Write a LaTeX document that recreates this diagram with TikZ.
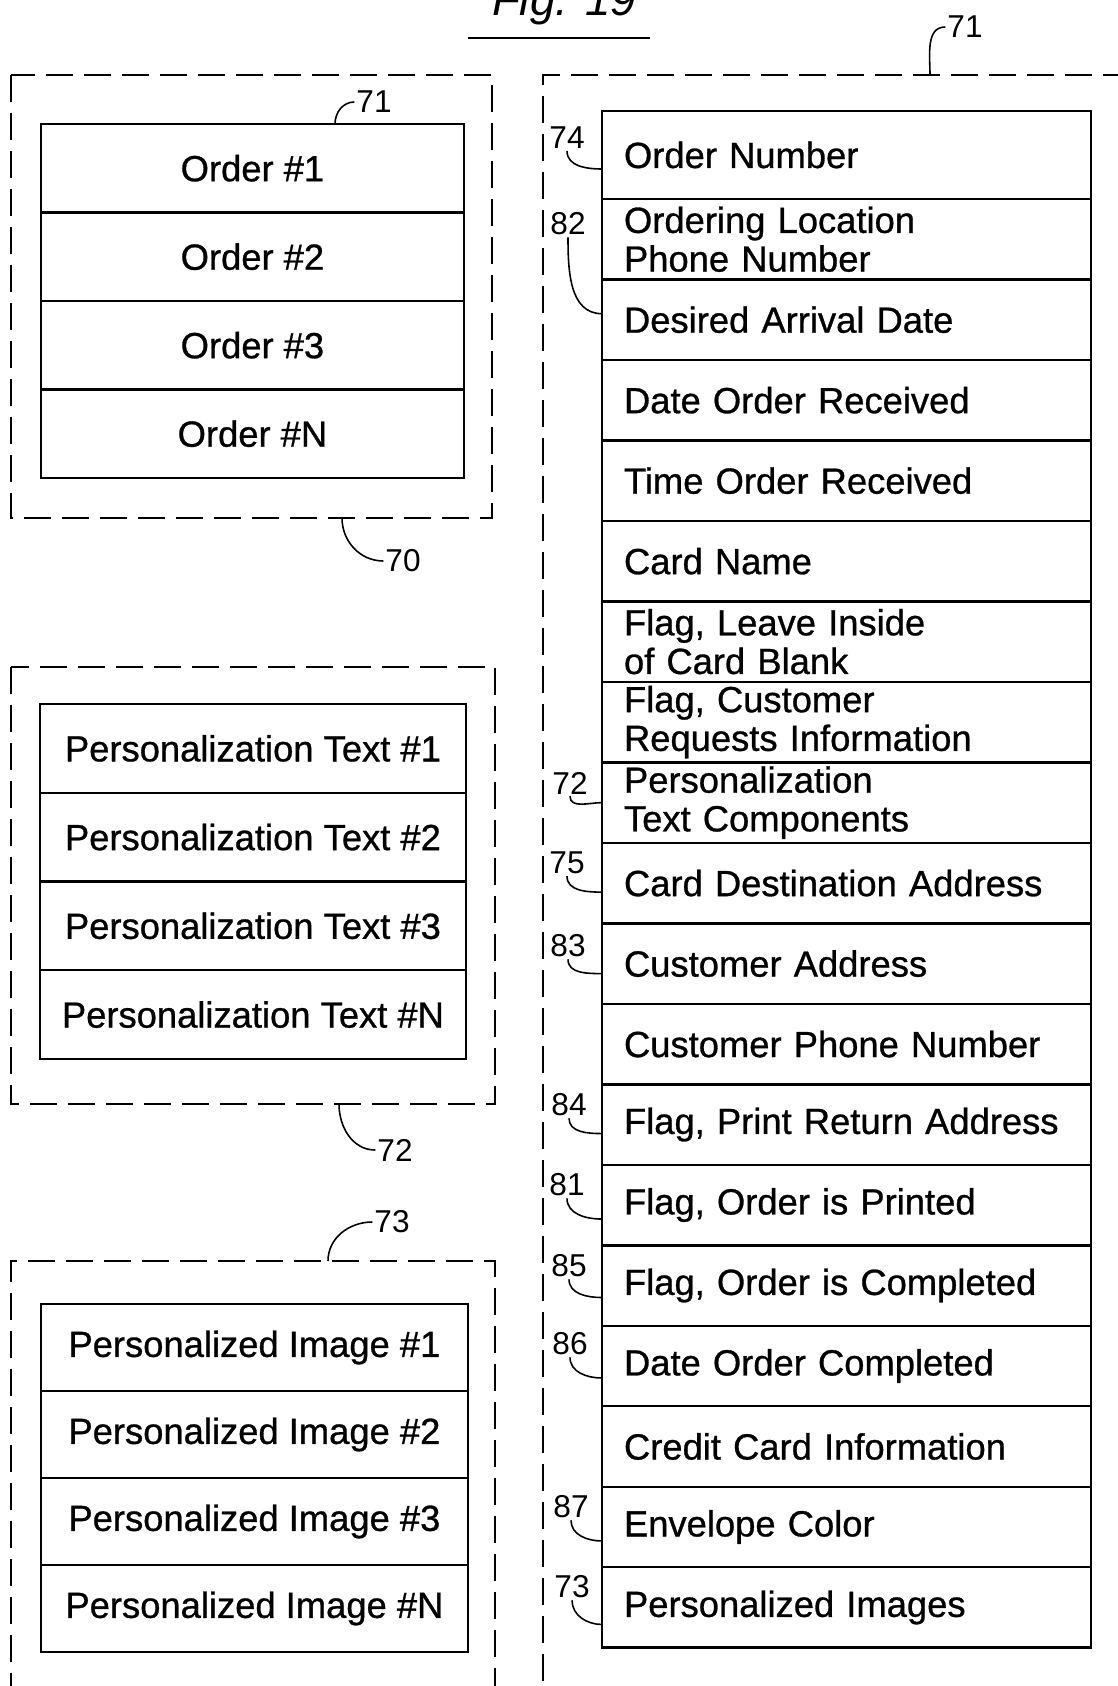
\documentclass[tikz,border=0pt]{standalone}
\usepackage{fontspec}
\setmainfont{Liberation Sans}
\newfontfamily\cellfont{Liberation Sans}[FakeBold=0.8]
\usetikzlibrary{positioning,calc}

\begin{document}
\begin{tikzpicture}[x=0.02cm,y=-0.02cm,
		frame/.style={dash pattern=on 0.54cm off 0.22cm, line width=1.3pt},
		cell/.style={draw, line width=1.4pt, outer sep=0pt, inner sep=0pt, align=center, font=\cellfont\fontsize{20.7}{22}\selectfont},
		ordcell/.style={cell, minimum width=8.46cm, minimum height=1.77cm},
		txtcell/.style={cell, minimum width=8.52cm, minimum height=1.775cm},
		imgcell/.style={cell, minimum width=8.54cm, minimum height=1.74cm},
		field/.style={draw, line width=1.4pt, outer sep=0pt, inner xsep=0.44cm, inner ysep=0pt, text width=8.9cm, align=left, minimum height=1.61cm, font=\cellfont\fontsize{20.7}{22}\selectfont},
		ref/.style={inner sep=1pt, font=\fontsize{18}{20}\selectfont},
		lead/.style={line width=0.9pt}]
		\useasboundingbox (0,0) rectangle (1117,1686);

		% title
		\node[anchor=base, font=\itshape\fontsize{26}{28}\selectfont] (fig) at (564,16) {Fig. 19};
		\draw[line width=1.6pt] (468,38) -- (650,38);

		% orders (70)
		\draw[frame] (11,75) rectangle (492,518);
		\node[ordcell, anchor=north west] (o1) at (41,124) {Order \#1};
		\node[ordcell, below=0pt of o1] (o2) {Order \#2};
		\node[ordcell, below=0pt of o2] (o3) {Order \#3};
		\node[ordcell, below=0pt of o3] (o4) {Order \#N};
		\node[ref] (n71) at (374,102) {71};
		\coordinate (c71) at (335,124);
		\draw[lead] (c71) to[out=90,in=180] (n71.west);
		\node[ref] (n70) at (403,561) {70};
		\coordinate (c70) at (342,518);
		\draw[lead] (c70) to[out=-90,in=180] (n70.west);

		% personalization text (72)
		\draw[frame] (11,667) rectangle (495,1104);
		\node[txtcell, anchor=north west] (p1) at (40,704) {Personalization Text \#1};
		\node[txtcell, below=0pt of p1] (p2) {Personalization Text \#2};
		\node[txtcell, below=0pt of p2] (p3) {Personalization Text \#3};
		\node[txtcell, below=0pt of p3] (p4) {Personalization Text \#N};
		\node[ref] (n72) at (395,1150) {72};
		\coordinate (c72) at (339,1104);
		\draw[lead] (c72) to[out=-90,in=180] (n72.west);

		% personalized images (73)
		\draw[frame] (11,1700) |- (495,1261) -- (495,1700);
		\node[imgcell, anchor=north west] (i1) at (41,1304) {Personalized Image \#1};
		\node[imgcell, below=0pt of i1] (i2) {Personalized Image \#2};
		\node[imgcell, below=0pt of i2] (i3) {Personalized Image \#3};
		\node[imgcell, below=0pt of i3] (i4) {Personalized Image \#N};
		\node[ref] (n73) at (392,1222) {73};
		\coordinate (c73) at (328,1261);
		\draw[lead] (c73) to[out=90,in=180] (n73.west);

		% order record (71)
		\draw[frame] (1130,75) -- (543,75) -- (543,1700);
		\node[ref] (m71) at (965,27) {71};
		\coordinate (d71) at (930,75);
		\draw[lead] (d71) to[out=90,in=180] (m71.west);

		\node[field, anchor=north west, minimum height=1.76cm] (r1) at (602,111) {Order Number};
		\node[field, below=0pt of r1] (r2) {Ordering Location\\Phone Number};
		\node[field, below=0pt of r2] (r3) {Desired Arrival Date};
		\node[field, below=0pt of r3] (r4) {Date Order Received};
		\node[field, below=0pt of r4] (r5) {Time Order Received};
		\node[field, below=0pt of r5] (r6) {Card Name};
		\node[field, below=0pt of r6] (r7) {Flag, Leave Inside\\of Card Blank};
		\node[field, below=0pt of r7] (r8) {Flag, Customer\\Requests Information};
		\node[field, below=0pt of r8] (r9) {Personalization\\Text Components};
		\node[field, below=0pt of r9] (r10) {Card Destination Address};
		\node[field, below=0pt of r10] (r11) {Customer Address};
		\node[field, below=0pt of r11] (r12) {Customer Phone Number};
		\node[field, below=0pt of r12] (r13) {Flag, Print Return Address};
		\node[field, below=0pt of r13] (r14) {Flag, Order is Printed};
		\node[field, below=0pt of r14] (r15) {Flag, Order is Completed};
		\node[field, below=0pt of r15] (r16) {Date Order Completed};
		\node[field, below=0pt of r16] (r17) {Credit Card Information};
		\node[field, below=0pt of r17] (r18) {Envelope Color};
		\node[field, below=0pt of r18] (r19) {Personalized Images};

		% reference numerals of the fields
		\node[ref] (l74) at (567,138) {74};
		\node[ref] (l82) at (568,224) {82};
		\node[ref] (l72) at (570,783) {72};
		\node[ref] (l75) at (567,863) {75};
		\node[ref] (l83) at (568,946) {83};
		\node[ref] (l84) at (569,1105) {84};
		\node[ref] (l81) at (567,1185) {81};
		\node[ref] (l85) at (569,1266) {85};
		\node[ref] (l86) at (570,1344) {86};
		\node[ref] (l87) at (571,1507) {87};
		\node[ref] (l73) at (572,1587) {73};
		\draw[lead] (l74.south) to[out=-90,in=180] ($(r1.west)+(0,14)$);
		\draw[lead] (l82.south) to[out=-90,in=180] ($(r3.west)+(0,-6)$);
		\draw[lead] (l72.south) to[out=-90,in=180] (r9.west);
		\draw[lead] (l75.south) to[out=-90,in=180] ($(r10.west)+(0,9)$);
		\draw[lead] (l83.south) to[out=-90,in=180] ($(r11.west)+(0,10)$);
		\draw[lead] (l84.south) to[out=-90,in=180] ($(r13.west)+(0,9)$);
		\draw[lead] (l81.south) to[out=-90,in=180] ($(r14.west)+(0,14)$);
		\draw[lead] (l85.south) to[out=-90,in=180] ($(r15.west)+(0,12)$);
		\draw[lead] (l86.south) to[out=-90,in=180] ($(r16.west)+(0,12)$);
		\draw[lead] (l87.south) to[out=-90,in=180] ($(r18.west)+(0,14)$);
		\draw[lead] (l73.south) to[out=-90,in=180] ($(r19.west)+(0,17)$);
	\end{tikzpicture}
\end{document}
